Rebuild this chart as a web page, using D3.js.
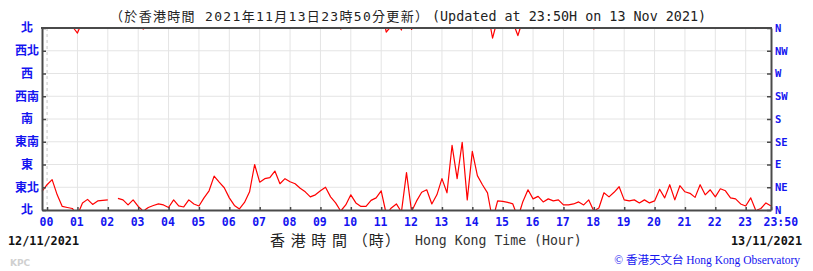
<!DOCTYPE html>
<html>
<head>
<meta charset="utf-8">
<script src="https://cdn.jsdelivr.net/npm/d3@7"></script>
<style>
  body { margin: 0; background: #fff; }
  svg { display: block; }
</style>
</head>
<body>
<svg id="chart" width="813" height="271"></svg>
<script>
'use strict';

/* Wind direction (degrees) every 10 minutes, from 23:50 on 12/11/2021 */
var startTime = new Date(2021, 10, 12, 23, 50);
var stepMinutes = 10;
var directions = [
  37, 50, 60, 30, 7, 5, 3, 350, 14, 21, 11, 18, 19, 20, null, 23,
  20, 10, 20, 7, 358, 5, 9, 12, 10, 5, 20, 8, 6, 20, 12, 8,
  24, 38, 67, 55, 44, 24, 9, 2, 15, 36, 90, 55, 62, 64, 77, 52,
  62, 56, 52, 43, 36, 26, 30, 38, 45, 26, 14, 358, 10, 30, 14, 7,
  7, 19, 24, 38, 352, 4, 12, 356, 74, 357, 18, 35, 40, 12, 30, 62,
  34, 128, 62, 134, 20, 116, 68, 50, 34, 340, 18, 17, 15, 12, 345, 17,
  40, 22, 27, 16, 22, 18, 20, 10, 10, 12, 16, 10, 20, 358, 4, 34,
  26, 35, 46, 20, 18, 20, 14, 20, 14, 18, 41, 24, 50, 20, 48, 36,
  33, 25, 50, 30, 40, 26, 42, 38, 24, 22, 12, 8, 24, 359, 3, 14,
  8
];

var dirDegrees = [0, 45, 90, 135, 180, 225, 270, 315, 360];
var dirLabelsZh = ['北', '東北', '東', '東南', '南', '西南', '西', '西北', '北'];
var dirLabelsEn = ['N', 'NE', 'E', 'SE', 'S', 'SW', 'W', 'NW', 'N'];
var hourLabels = ['00', '01', '02', '03', '04', '05', '06', '07', '08', '09',
  '10', '11', '12', '13', '14', '15', '16', '17', '18', '19', '20', '21',
  '22', '23', '23:50'];

var titleZh = '（於香港時間 2021年11月13日23時50分更新）';
var titleEn = '(Updated at 23:50H on 13 Nov 2021)';
var startDateLabel = '12/11/2021';
var endDateLabel = '13/11/2021';

var margin = { left: 42, right: 771, top: 28, bottom: 210 };
var blue = '#1414f0';

var svg = d3.select('#chart');
svg.append('rect').attr('width', 813).attr('height', 271).attr('fill', '#fff');

var endTime = d3.timeMinute.offset(startTime, (directions.length - 1) * stepMinutes);

var x = d3.scaleTime()
  .domain([startTime, endTime])
  .range([margin.left, margin.right]);

var y = d3.scaleLinear()
  .domain([0, 360])
  .range([margin.bottom, margin.top]);

var hourTicks = d3.timeHour.range(d3.timeHour.ceil(startTime), endTime);
hourTicks.push(endTime);

/* We append the grid */
var grid = svg.append('g').attr('class', 'grid');
grid.selectAll('.hgrid')
  .data(dirDegrees.slice(1, -1))
  .enter().append('line')
    .attr('x1', margin.left).attr('x2', margin.right)
    .attr('y1', function(d) { return y(d); })
    .attr('y2', function(d) { return y(d); })
    .attr('stroke', '#e4e4e4');
grid.selectAll('.vgrid')
  .data(hourTicks.slice(0, -1))
  .enter().append('line')
    .attr('x1', function(d) { return x(d); })
    .attr('x2', function(d) { return x(d); })
    .attr('y1', margin.top).attr('y2', margin.bottom)
    .attr('stroke', function(d, i) { return i === 0 ? '#c8c8c8' : '#e4e4e4'; })
    .attr('stroke-dasharray', function(d, i) { return i === 0 ? '3,3' : null; });

/* We split the series where the wind turns through north */
var points = directions.map(function(d, i) {
  return { t: d3.timeMinute.offset(startTime, i * stepMinutes), v: d };
});
var segments = [];
var current = [];
points.forEach(function(p, i) {
  if (p.v === null) {
    if (current.length) { segments.push(current); }
    current = [];
    return;
  }
  var prev = i > 0 ? points[i - 1] : null;
  if (prev && prev.v !== null && Math.abs(p.v - prev.v) > 180) {
    var goesUp = p.v > prev.v;
    var vEnd = goesUp ? 0 : 360;
    var unwrapped = goesUp ? p.v - 360 : p.v + 360;
    var f = (vEnd - prev.v) / (unwrapped - prev.v);
    var tc = new Date(+prev.t + f * (p.t - prev.t));
    current.push({ t: tc, v: vEnd });
    segments.push(current);
    current = [{ t: tc, v: goesUp ? 360 : 0 }];
  }
  current.push(p);
});
if (current.length) { segments.push(current); }

var line = d3.line()
  .x(function(d) { return x(d.t); })
  .y(function(d) { return y(d.v); });

svg.append('g')
  .selectAll('path')
  .data(segments)
  .enter().append('path')
    .attr('d', line)
    .attr('fill', 'none')
    .attr('stroke', '#ff0000')
    .attr('stroke-width', 1.2)
    .attr('stroke-linejoin', 'round');

/* We append the axis */
var axisColor = '#4a4a4a';

var gLeft = svg.append('g')
  .attr('transform', 'translate(' + margin.left + ',0)')
  .call(d3.axisLeft(y).tickValues(dirDegrees).tickSize(-4).tickSizeOuter(0)
    .tickFormat(function(d, i) { return dirLabelsZh[i]; }));
gLeft.selectAll('text')
  .attr('x', -15)
  .attr('text-anchor', 'middle')
  .attr('fill', blue)
  .style('font', 'bold 12px "Noto Sans CJK TC", sans-serif');

var gRight = svg.append('g')
  .attr('transform', 'translate(' + margin.right + ',0)')
  .call(d3.axisRight(y).tickValues(dirDegrees).tickSize(-4).tickSizeOuter(0)
    .tickPadding(4)
    .tickFormat(function(d, i) { return dirLabelsEn[i]; }));
gRight.selectAll('text')
  .attr('fill', blue)
  .style('font', 'bold 10.5px "DejaVu Sans Mono", monospace');

var gBottom = svg.append('g')
  .attr('transform', 'translate(0,' + margin.bottom + ')')
  .call(d3.axisBottom(x).tickValues(hourTicks).tickSize(-3).tickSizeOuter(0)
    .tickPadding(8)
    .tickFormat(function(d, i) { return hourLabels[i]; }));
gBottom.selectAll('text')
  .attr('x', -8)
  .attr('text-anchor', 'start')
  .attr('fill', blue)
  .style('font', 'bold 11.5px "DejaVu Sans Mono", monospace');

[gLeft, gRight, gBottom].forEach(function(g) {
  g.select('.domain').attr('stroke', axisColor).attr('stroke-width', 2);
  g.selectAll('.tick line').attr('stroke', axisColor).attr('stroke-width', 1.5);
});

svg.append('line')
  .attr('x1', margin.left - 1).attr('x2', margin.right + 1)
  .attr('y1', margin.top).attr('y2', margin.top)
  .attr('stroke', axisColor).attr('stroke-width', 2);

/* We append the texts */
svg.append('text')
  .attr('x', 110).attr('y', 21)
  .attr('textLength', 318).attr('lengthAdjust', 'spacing')
  .attr('fill', '#222')
  .style('font', '13px "DejaVu Sans Mono", "Noto Sans CJK TC", monospace')
  .text(titleZh);
svg.append('text')
  .attr('x', 432).attr('y', 21)
  .attr('fill', '#222')
  .style('font', '13.4px "DejaVu Sans Mono", monospace')
  .text(titleEn);

svg.append('text')
  .attr('x', 8).attr('y', 245)
  .attr('fill', '#111')
  .style('font', 'bold 11.8px "DejaVu Sans Mono", monospace')
  .text(startDateLabel);
svg.append('text')
  .attr('x', 802).attr('y', 245)
  .attr('text-anchor', 'end')
  .attr('fill', '#111')
  .style('font', 'bold 11.8px "DejaVu Sans Mono", monospace')
  .text(endDateLabel);

svg.append('text')
  .attr('x', 270).attr('y', 246)
  .attr('textLength', 130).attr('lengthAdjust', 'spacing')
  .attr('fill', '#222')
  .style('font', '15px "Noto Sans CJK TC", serif')
  .text('香 港 時 間 （時）');
svg.append('text')
  .attr('x', 415).attr('y', 245)
  .attr('fill', '#333')
  .style('font', '13.2px "DejaVu Sans Mono", monospace')
  .text('Hong Kong Time (Hour)');

svg.append('text')
  .attr('x', 10).attr('y', 266)
  .attr('fill', '#d0d0d0')
  .style('font', 'bold 9px "DejaVu Sans", sans-serif')
  .text('KPC');

svg.append('text')
  .attr('x', 800).attr('y', 264)
  .attr('text-anchor', 'end')
  .attr('fill', blue)
  .style('font', '11.5px "Liberation Serif", "Noto Sans CJK TC", serif')
  .text('© 香港天文台 Hong Kong Observatory');
</script>
</body>
</html>
